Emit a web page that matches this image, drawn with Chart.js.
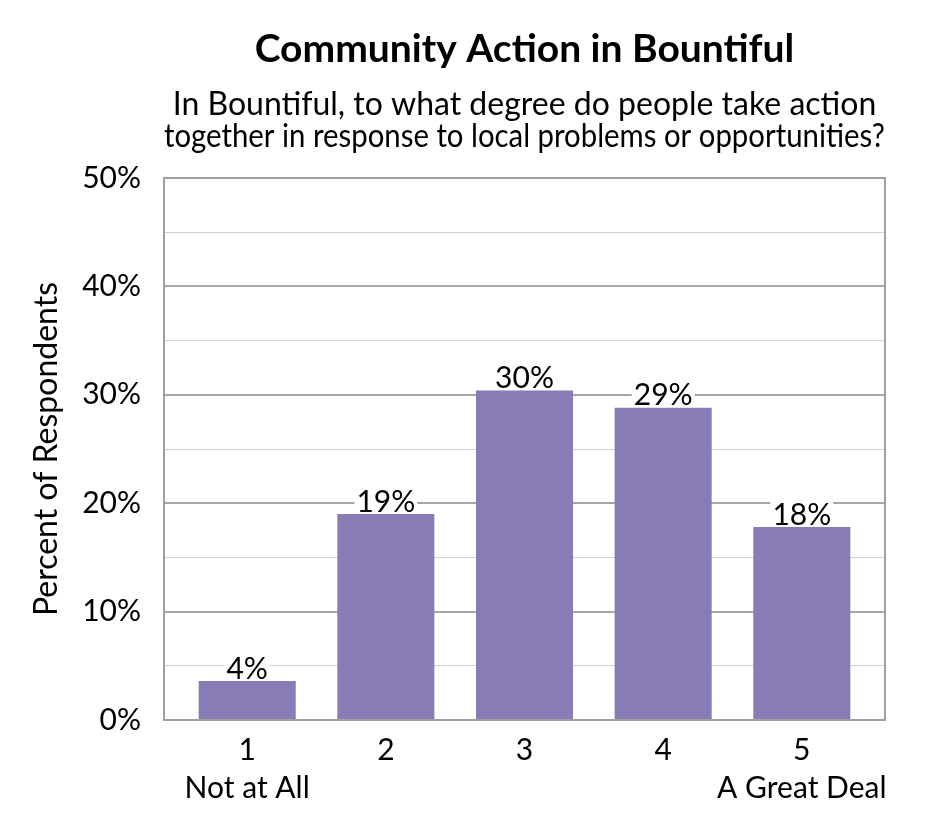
<!DOCTYPE html>
<html>
<head>
<meta charset="utf-8">
<script src="https://cdn.jsdelivr.net/npm/chart.js@4"></script>
<style>
  html, body { margin: 0; padding: 0; background: #fff; }
  #wrap { width: 945px; height: 840px; }
</style>
</head>
<body>
<div id="wrap"><canvas id="c" width="945" height="840"></canvas></div>
<script>
const categories = ['1', '2', '3', '4', '5'];
const subLabels = ['Not at All', '', '', '', 'A Great Deal'];
const values = [3.6, 19.0, 30.4, 28.8, 17.8];
const dataLabels = ['4%', '19%', '30%', '29%', '18%'];
const yTicks = [0, 10, 20, 30, 40, 50];

const FONT = 'Lato, "Open Sans", sans-serif';

const framePlugin = {
  id: 'frame',
  beforeDatasetsDraw(chart) {
    const {ctx, chartArea: a} = chart;
    ctx.save();
    ctx.strokeStyle = '#A0A0A0';
    ctx.lineWidth = 2;
    ctx.strokeRect(a.left, a.top, a.right - a.left, a.bottom - a.top);
    ctx.restore();
  }
};

const labelPlugin = {
  id: 'barLabels',
  afterDatasetsDraw(chart) {
    const {ctx} = chart;
    const meta = chart.getDatasetMeta(0);
    ctx.save();
    ctx.font = '30px ' + FONT;
    ctx.textAlign = 'center';
    ctx.textBaseline = 'bottom';
    meta.data.forEach((bar, i) => {
      const t = dataLabels[i];
      const w = ctx.measureText(t).width;
      ctx.fillStyle = '#fff';
      ctx.fillRect(bar.x - w / 2 - 2, bar.y - 30, w + 4, 28);
      ctx.fillStyle = '#000';
      ctx.fillText(t, bar.x, bar.y + 3);
    });
    ctx.restore();
  }
};

new Chart(document.getElementById('c'), {
  type: 'bar',
  data: {
    datasets: [{
      data: values.map((v, i) => ({x: i + 1, y: v})),
      backgroundColor: '#887BB6',
      borderWidth: 0,
      categoryPercentage: 1,
      barPercentage: 0.7
    }]
  },
  options: {
    responsive: false,
    animation: false,
    layout: {padding: {left: 0, right: 60, top: 0, bottom: 0}},
    plugins: {
      legend: {display: false},
      tooltip: {enabled: false},
      title: {
        display: true,
        fullSize: false,
        text: 'Community Action in Bountiful',
        color: '#000',
        font: {family: FONT, size: 39, weight: 'bold', lineHeight: 1.2},
        padding: {top: 25.6, bottom: 9}
      },
      subtitle: {
        display: true,
        fullSize: false,
        text: ['In Bountiful, to what degree do people take action', 'together in response to local problems or opportunities?'],
        color: '#000',
        font: {family: FONT, size: 32, lineHeight: 1.0},
        padding: {top: 7, bottom: 25.6}
      }
    },
    scales: {
      x: {
        type: 'linear',
        min: 0.4,
        max: 5.6,
        offset: false,
        grid: {display: false, drawTicks: false},
        border: {display: false},
        afterBuildTicks: (axis) => { axis.ticks = categories.map((c, i) => ({value: i + 1})); },
        afterFit: (axis) => { axis.height = 120; },
        ticks: {
          autoSkip: false,
          maxRotation: 0,
          padding: 11,
          color: '#000',
          font: {family: FONT, size: 30, lineHeight: 1.27},
          callback: (v) => {
            const i = Math.round(v) - 1;
            return subLabels[i] ? [categories[i], subLabels[i]] : categories[i];
          }
        }
      },
      y: {
        min: 0,
        max: 50,
        afterBuildTicks: (axis) => {
          const t = [];
          for (let k = 0; k <= 50; k += 5) t.push({value: k});
          axis.ticks = t;
        },
        afterFit: (axis) => { axis.width = 164; },
        grid: {
          drawTicks: false,
          color: (ctx) => (yTicks.includes(ctx.tick.value) ? '#A6A6A6' : '#D0D0D0'),
          lineWidth: (ctx) => (yTicks.includes(ctx.tick.value) ? 2 : 1)
        },
        border: {display: false},
        ticks: {
          padding: 23,
          color: '#000',
          font: {family: FONT, size: 30},
          callback: (v) => (yTicks.includes(v) ? v + '%' : '')
        },
        title: {
          display: true,
          text: 'Percent of Respondents',
          color: '#000',
          font: {family: FONT, size: 32, lineHeight: 1.2},
          padding: {top: 27, bottom: 0}
        }
      }
    }
  },
  plugins: [framePlugin, labelPlugin]
});
</script>
</body>
</html>
